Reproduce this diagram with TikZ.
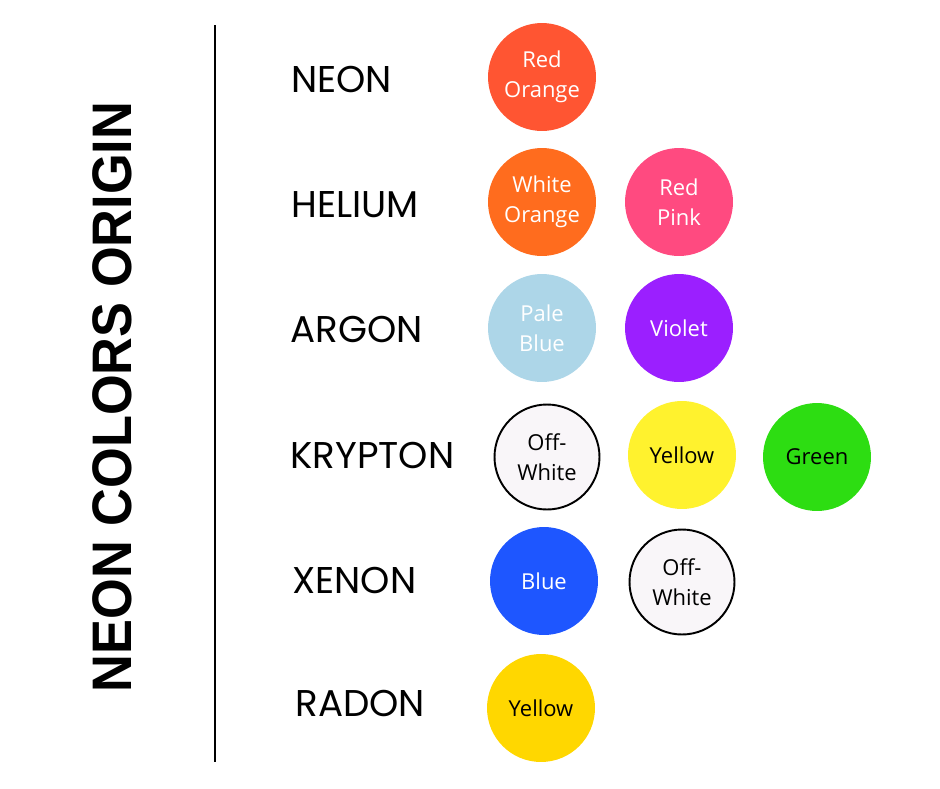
\documentclass[tikz,border=0pt]{standalone}
\usepackage{fontspec}
\usepackage{xcolor}
\setmainfont{Open Sans}
\newfontfamily\gasfont{Poppins}
\newfontfamily\headfont{Liberation Sans}

\definecolor{redorange}{RGB}{255,85,50}
\definecolor{whiteorange}{RGB}{255,108,30}
\definecolor{redpink}{RGB}{255,74,128}
\definecolor{paleblue}{RGB}{173,214,232}
\definecolor{violet}{RGB}{155,31,255}
\definecolor{offwhite}{RGB}{249,246,249}
\definecolor{lampyellow}{RGB}{255,242,46}
\definecolor{lampgreen}{RGB}{45,221,18}
\definecolor{lampblue}{RGB}{30,86,255}
\definecolor{goldyellow}{RGB}{255,215,0}

\tikzset{
  dot/.style={circle, minimum size=2.16cm, inner sep=0pt, align=center, fill=#1, text=white,
    font=\fontsize{12.5}{17}\selectfont},
  darkdot/.style={dot=#1, text=black},
  ringdot/.style={darkdot=offwhite, draw=black, line width=1.1pt, minimum size=2.1cm},
  gas/.style={anchor=west, inner sep=0pt, font=\gasfont\fontsize{21.2}{26}\selectfont}
}

\begin{document}
\begin{tikzpicture}[x=0.02cm, y=-0.02cm]
  \useasboundingbox[fill=white] (0,0) rectangle (940,788);
  \node[rotate=90, font=\headfont\bfseries\fontsize{31.7}{36}\selectfont] (head) at (112,397) {\scalebox{0.94}[1]{NEON COLORS ORIGIN}};
  \coordinate (top) at (215,25); \coordinate (bot) at (215,762);
  \draw[line width=1pt] (top) -- (bot);

  \node[gas] (neon) at (291,79) {NEON};
  \node[gas] (helium) at (291,205) {HELIUM};
  \node[gas] (argon) at (290,329) {ARGON};
  \node[gas] (krypton) at (290,455) {KRYPTON};
  \node[gas] (xenon) at (292,580) {XENON};
  \node[gas] (radon) at (295,703) {RADON};

  \node[dot=redorange] (neonA) at (542,77) {Red\\Orange};
  \node[dot=whiteorange] (heliumA) at (542,202) {White\\Orange};
  \node[dot=redpink] (heliumB) at (679,202) {Red\\Pink};
  \node[dot=paleblue] (argonA) at (542,328) {Pale\\Blue};
  \node[dot=violet] (argonB) at (679,328) {Violet};
  \node[ringdot] (kryptonA) at (547,457) {Off-\\White};
  \node[darkdot=lampyellow] (kryptonB) at (682,455) {Yellow};
  \node[darkdot=lampgreen] (kryptonC) at (817,457) {Green};
  \node[dot=lampblue] (xenonA) at (544,581) {Blue};
  \node[ringdot] (xenonB) at (682,582) {Off-\\White};
  \node[darkdot=goldyellow] (radonA) at (541,708) {Yellow};
\end{tikzpicture}
\end{document}
